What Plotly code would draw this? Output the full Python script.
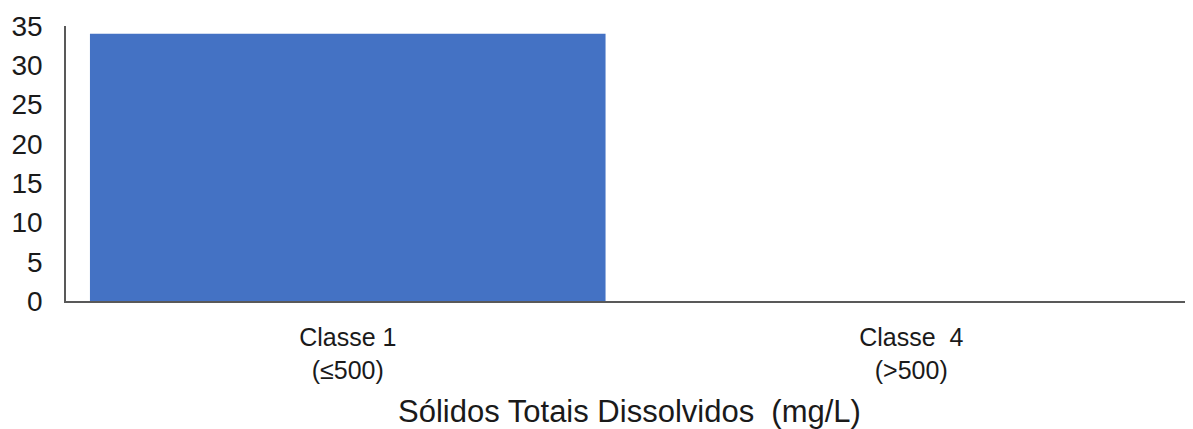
import plotly.graph_objects as go

categories = ["Classe 1<br>(≤500)", "Classe  4<br>(>500)"]
values = [34, 0]
y_ticks = [0, 5, 10, 15, 20, 25, 30, 35]
x_title = "Sólidos Totais Dissolvidos  (mg/L)"

fig = go.Figure(go.Bar(x=categories, y=values, marker=dict(color="#4472C4", line=dict(width=0))))

font = "Liberation Sans, Arial, sans-serif"
# page body has an 8px default margin; figure sized/offset to compensate
fig.update_layout(
    width=1185, height=421,
    margin=dict(l=58, r=0, t=18, b=128),
    paper_bgcolor="white", plot_bgcolor="white",
    bargap=0.085,
    showlegend=False,
    font=dict(family=font, color="#1a1a1a", size=25),
)
fig.update_xaxes(
    showline=True, linecolor="#595959", linewidth=2,
    showgrid=False, ticks="", tickfont=dict(size=25), automargin=False,
    ticklabelstandoff=13,
    title=dict(text=x_title, font=dict(size=31), standoff=24),
)
fig.update_yaxes(
    range=[0, 35], tickvals=y_ticks, showline=True, linecolor="#595959", linewidth=1.5,
    showgrid=False, zeroline=False, ticks="", tickfont=dict(size=28), automargin=False,
    ticklabelstandoff=16,
)
fig.write_html("out.html")
